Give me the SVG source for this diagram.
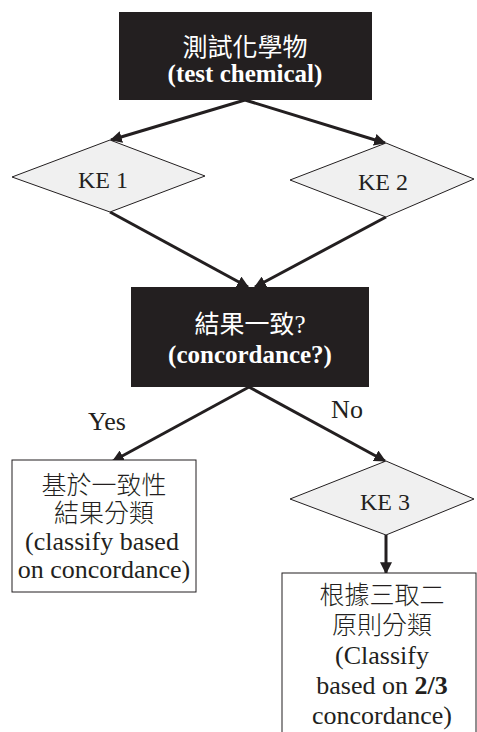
<svg xmlns="http://www.w3.org/2000/svg" width="477" height="732" viewBox="0 0 477 732">
<defs>
<style>
.dark{fill:#231f20;}
.dia{fill:#f0f0f0;stroke:#231f20;stroke-width:1;}
.box{fill:#ffffff;stroke:#231f20;stroke-width:1;}
.arr{fill:none;stroke:#231f20;stroke-width:3;marker-end:url(#ah);}
.lat{font-family:"Liberation Serif","Noto Sans CJK TC",serif;text-anchor:middle;}
.cjk{font-family:"Liberation Serif","Noto Sans CJK TC",sans-serif;text-anchor:middle;font-size:25px;}
.ink{fill:#231f20;}
.lt{font-weight:300;}
.wh{fill:#ffffff;}
</style>
<marker id="ah" viewBox="0 0 10 10" refX="9" refY="5" markerWidth="4" markerHeight="4" orient="auto" markerUnits="strokeWidth">
<path d="M0,0 L10,5 L0,10 z" fill="#231f20"/>
</marker>
</defs>
<rect width="477" height="732" fill="#ffffff"/>
<g id="connectors">
<line class="arr" x1="245" y1="100" x2="111" y2="140"/>
<line class="arr" x1="245" y1="100" x2="385" y2="143"/>
<line class="arr" x1="110" y1="212" x2="248" y2="287"/>
<line class="arr" x1="386" y1="217" x2="255" y2="287"/>
<line class="arr" x1="249" y1="387" x2="113" y2="461"/>
<line class="arr" x1="249" y1="387" x2="385" y2="461"/>
<line class="arr" x1="386" y1="535" x2="386" y2="573"/>
</g>
<g id="start">
<rect class="dark" x="119" y="12" width="253" height="88"/>
<text class="cjk wh" x="245" y="56">測試化學物</text>
<text class="lat wh" x="245" y="82" font-size="25" font-weight="bold">(test chemical)</text>
</g>
<g id="ke1">
<polygon class="dia" points="12,177 110,140 205,176 110,212"/>
<text class="lat ink" x="103" y="188" font-size="24">KE 1</text>
</g>
<g id="ke2">
<polygon class="dia" points="290,180 386,143 474,179 386,217"/>
<text class="lat ink" x="383" y="190" font-size="24">KE 2</text>
</g>
<g id="concordance">
<rect class="dark" x="131" y="287" width="238" height="100"/>
<text class="cjk wh" x="250" y="333">結果一致?</text>
<text class="lat wh" x="250" y="363" font-size="25" font-weight="bold">(concordance?)</text>
</g>
<g id="labels">
<text class="lat ink" x="107" y="430" font-size="26">Yes</text>
<text class="lat ink" x="347" y="418" font-size="26">No</text>
</g>
<g id="yes-box">
<rect class="box" x="12" y="460" width="184" height="132"/>
<text class="cjk ink lt" x="104" y="494">基於一致性</text>
<text class="cjk ink lt" x="104" y="522">結果分類</text>
<text class="lat ink" x="102" y="550" font-size="26">(classify based</text>
<text class="lat ink" x="104" y="578" font-size="26">on concordance)</text>
</g>
<g id="ke3">
<polygon class="dia" points="290,499 386,461 474,499 386,535"/>
<text class="lat ink" x="385" y="510" font-size="24">KE 3</text>
</g>
<g id="no-box">
<rect class="box" x="282" y="573" width="194" height="170"/>
<text class="cjk ink lt" x="382" y="604">根據三取二</text>
<text class="cjk ink lt" x="382" y="634">原則分類</text>
<text class="lat ink" x="382" y="664" font-size="26">(Classify</text>
<text class="lat ink" x="382" y="694" font-size="26">based on <tspan font-weight="bold">2/3</tspan></text>
<text class="lat ink" x="382" y="724" font-size="26">concordance)</text>
</g>
</svg>
